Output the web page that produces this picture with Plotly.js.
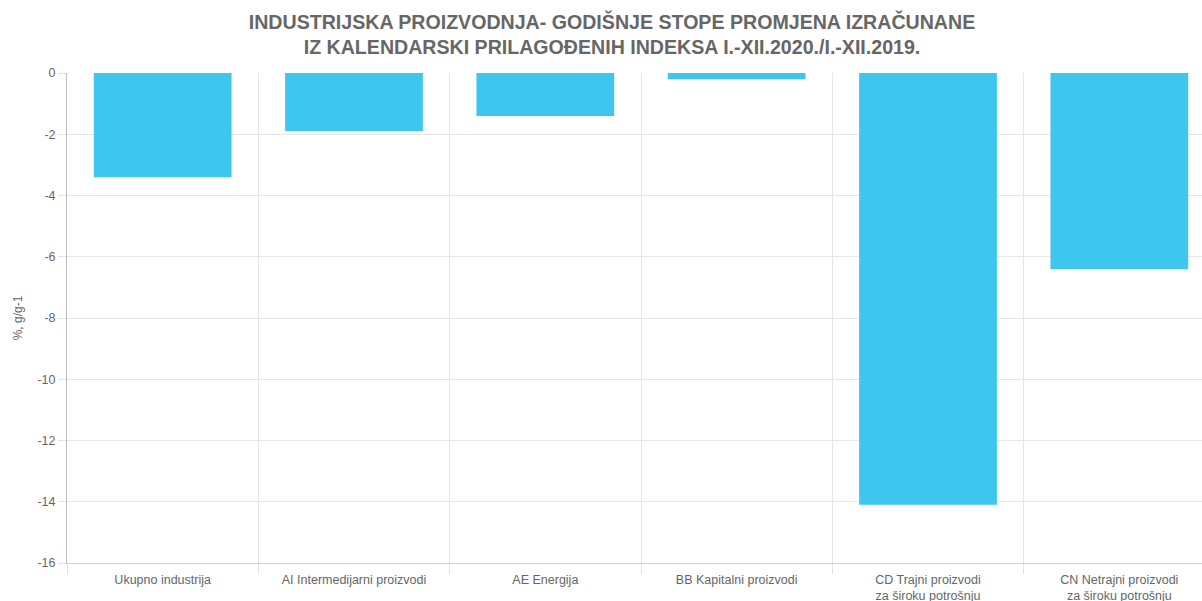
<!DOCTYPE html>
<html>
<head>
<meta charset="utf-8">
<script src="https://cdn.plot.ly/plotly-3.0.1.min.js"></script>
<style>
html,body{margin:0;padding:0;overflow:hidden;background:#fff;}
#chart{width:1215px;height:601px;}
</style>
</head>
<body>
<div id="chart"></div>
<script>
const categories = [
  "Ukupno industrija",
  "AI Intermedijarni proizvodi",
  "AE Energija",
  "BB Kapitalni proizvodi",
  "CD Trajni proizvodi<br>za široku potrošnju",
  "CN Netrajni proizvodi<br>za široku potrošnju"
];
const values = [-3.4, -1.9, -1.4, -0.2, -14.1, -6.4];
const yTicks = [0, -2, -4, -6, -8, -10, -12, -14, -16];

const trace = {
  type: "bar",
  x: categories,
  y: values,
  marker: {color: "#3EC6EF"},
  hoverinfo: "x+y"
};

const layout = {
  width: 1215,
  height: 601,
  margin: {l: 67, r: 0, t: 73, b: 38},
  paper_bgcolor: "#fff",
  plot_bgcolor: "#fff",
  bargap: 0.28,
  showlegend: false,
  font: {family: "Liberation Sans, Arial, sans-serif", color: "#666", size: 12},
  title: {
    text: "<b>INDUSTRIJSKA PROIZVODNJA- GODIŠNJE STOPE PROMJENA IZRAČUNANE<br>IZ KALENDARSKI PRILAGOĐENIH INDEKSA I.-XII.2020./I.-XII.2019.</b>",
    font: {family: "Liberation Sans, Arial, sans-serif", size: 19.6, color: "#666"},
    x: 612 / 1215,
    xref: "container",
    xanchor: "center",
    y: 1 - 29 / 601,
    yref: "container",
    yanchor: "top"
  },
  xaxis: {
    type: "category",
    tickson: "boundaries",
    ticks: "outside",
    ticklen: 10,
    tickcolor: "#e0e0e0",
    showgrid: true,
    gridcolor: "#e6e6e6",
    showline: true,
    linecolor: "#d0d0d0",
    ticklabelstandoff: 5,
    tickfont: {size: 12.5, color: "#666"},
    fixedrange: true
  },
  yaxis: {
    range: [-16, 0],
    tickvals: yTicks,
    ticktext: yTicks.map(String),
    ticks: "outside",
    ticklen: 8,
    tickcolor: "#e0e0e0",
    showgrid: true,
    gridcolor: "#e6e6e6",
    zeroline: false,
    showline: true,
    linecolor: "#bdbdbd",
    tickfont: {size: 12.5, color: "#666"},
    title: {text: "%, g/g-1", font: {size: 12, color: "#666"}, standoff: 12},
    fixedrange: true
  }
};

Plotly.newPlot("chart", [trace], layout, {displayModeBar: false, staticPlot: false});
</script>
</body>
</html>
